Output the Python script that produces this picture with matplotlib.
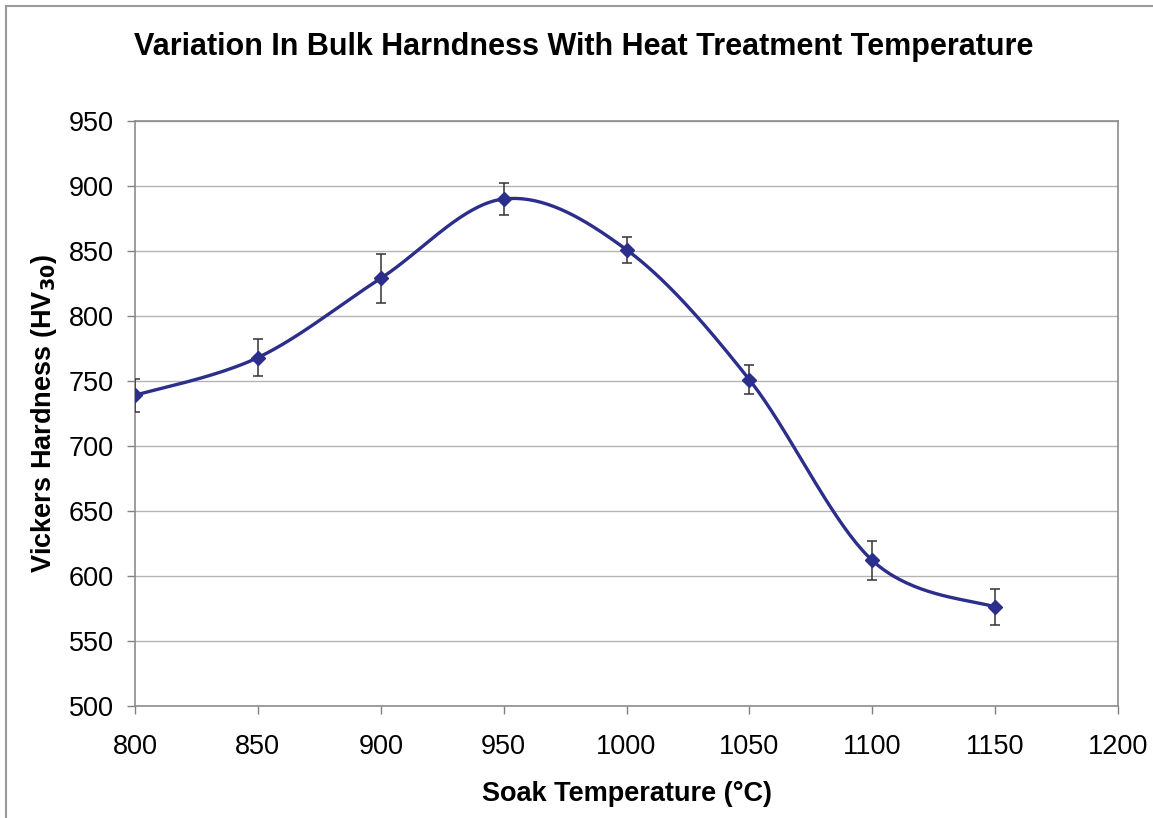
import numpy as np
import matplotlib
matplotlib.use("Agg")
import matplotlib.pyplot as plt
from matplotlib.lines import Line2D

plt.rcParams['font.family'] = ['Liberation Sans', 'DejaVu Sans']

temps = [800, 850, 900, 950, 1000, 1050, 1100, 1150]
hardness = [739, 768, 829, 890, 851, 751, 612, 576]
errors = [12.5, 14.5, 19, 12, 10, 11, 15, 14]

title = "Variation In Bulk Harndness With Heat Treatment Temperature"
xlabel = "Soak Temperature (°C)"
ylabel = "Vickers Hardness (HV$_{\\mathbf{30}}$)"
xticks = [800, 850, 900, 950, 1000, 1050, 1100, 1150, 1200]
yticks = [500, 550, 600, 650, 700, 750, 800, 850, 900, 950]

W, H = 1153, 818
fig = plt.figure(figsize=(W / 100, H / 100), dpi=100)
ax = fig.add_axes([135 / W, 1 - 706 / H, (1118 - 135) / W, (706 - 121) / H])

# Excel-style smoothed line (Catmull-Rom Bezier)
x = np.array(temps, float)
y = np.array(hardness, float)
n = len(x)
sx, sy = [], []
t = np.linspace(0, 1, 40)
for i in range(n - 1):
    p0 = np.array([x[max(i - 1, 0)], y[max(i - 1, 0)]])
    p1 = np.array([x[i], y[i]])
    p2 = np.array([x[i + 1], y[i + 1]])
    p3 = np.array([x[min(i + 2, n - 1)], y[min(i + 2, n - 1)]])
    c1 = p1 + (p2 - p0) / 6
    c2 = p2 - (p3 - p1) / 6
    pts = ((1 - t) ** 3)[:, None] * p1 + (3 * (1 - t) ** 2 * t)[:, None] * c1 \
        + (3 * (1 - t) * t ** 2)[:, None] * c2 + (t ** 3)[:, None] * p2
    sx.extend(pts[:, 0]); sy.extend(pts[:, 1])

navy = '#2B2E8A'
ax.plot(sx, sy, color=navy, lw=2.4, zorder=3, solid_capstyle='round')
ax.errorbar(temps, hardness, yerr=errors, fmt='none', ecolor='#333333',
            elinewidth=1.1, capsize=3.5, capthick=1.1, zorder=4)
ax.plot(temps, hardness, linestyle='none', marker='D', markersize=7.5,
        color=navy, zorder=5)

ax.set_xlim(800, 1200)
ax.set_ylim(500, 950)
ax.set_xticks(xticks)
ax.set_yticks(yticks)
ax.tick_params(axis='both', labelsize=19.5, direction='out', length=6,
               width=1, color='#808080')
ax.tick_params(axis='x', pad=14)
ax.tick_params(axis='y', pad=9)
ax.yaxis.grid(True, color='#B4B4B4', lw=1)
ax.set_axisbelow(True)
for s in ax.spines.values():
    s.set_color('#8C8C8C')
    s.set_linewidth(1.2)

ax.set_xlabel(xlabel, fontsize=19.5, fontweight='bold', labelpad=15)
ax.set_ylabel(ylabel, fontsize=19.5, fontweight='bold', labelpad=7)
fig.text(584 / W, 1 - 47 / H, title, fontsize=22, fontweight='bold',
         ha='center', va='center')

# outer chart frame
fig.add_artist(Line2D([6 / W, 6 / W], [0, 1 - 6 / H], transform=fig.transFigure,
                      color='#9A9A9A', lw=1.5))
fig.add_artist(Line2D([6 / W, 1], [1 - 6 / H, 1 - 6 / H], transform=fig.transFigure,
                      color='#9A9A9A', lw=1.5))

fig.savefig("out.png", dpi=100)
